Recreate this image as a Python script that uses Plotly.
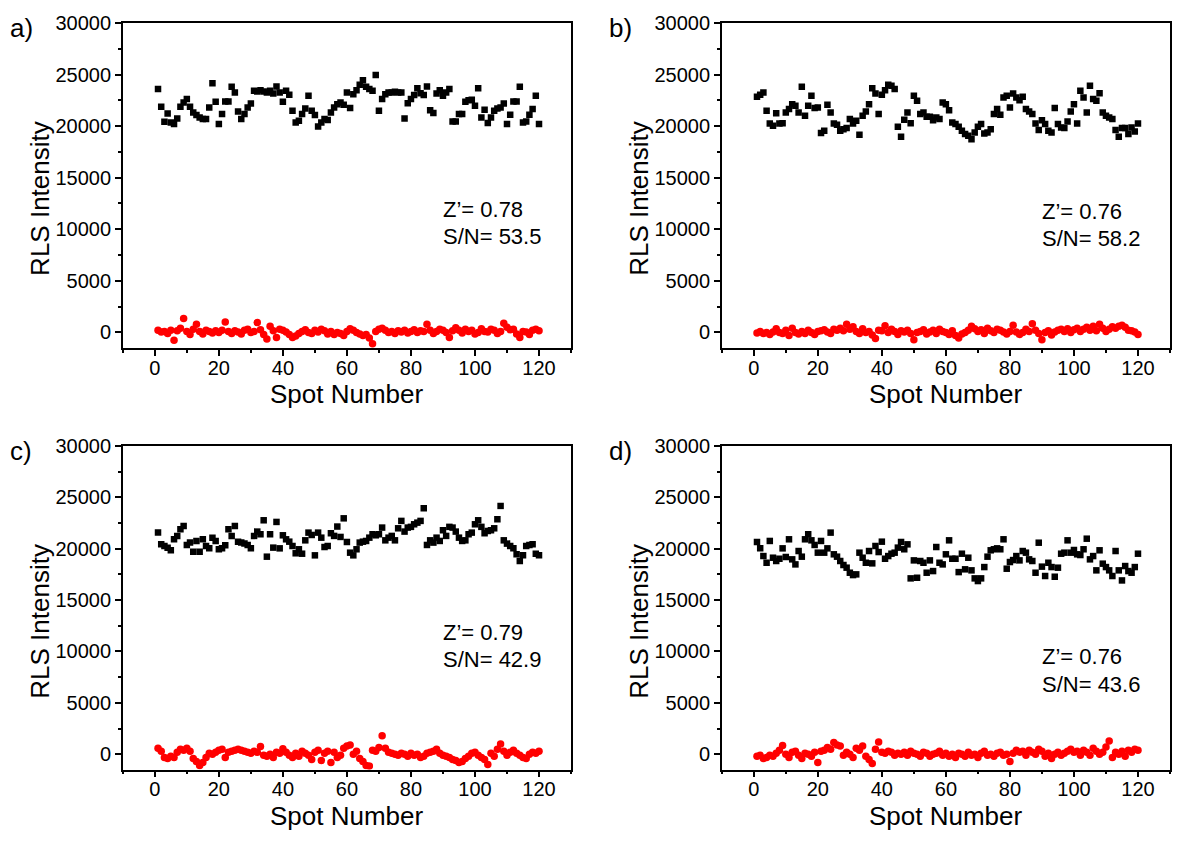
import plotly.graph_objects as go

# ---------------- data ----------------
panel_labels = ["a)", "b)", "c)", "d)"]
z_prime = ["Z’= 0.78", "Z’= 0.76", "Z’= 0.79", "Z’= 0.76"]
s_to_n = ["S/N= 53.5", "S/N= 58.2", "S/N= 42.9", "S/N= 43.6"]

pos_a = [23590, 21880, 20420, 21230, 20360, 20200, 20750, 21880, 22300, 22620,
         21880, 21330, 21070, 20840, 20680, 20680, 21810, 24170, 22360, 20200,
         21170, 22390, 22390, 23810, 23260, 21420, 20680, 21170, 21810, 22200,
         23430, 23360, 23490, 23360, 23260, 23430, 23170, 23840, 23260, 22360,
         23430, 23040, 21490, 20360, 20520, 21170, 21720, 22940, 21490, 21070,
         19970, 20360, 20680, 20590, 21330, 21810, 22130, 22300, 22070, 23260,
         21750, 23100, 23490, 24010, 24460, 23810, 23590, 23430, 24970, 21490,
         22620, 23100, 23260, 23260, 23330, 23260, 23260, 20750, 22230, 22620,
         23010, 23680, 23200, 23010, 23840, 21550, 21270, 23170, 23490, 22940,
         23260, 23590, 20460, 20460, 21170, 21170, 22360, 22520, 22550, 21970,
         23680, 20840, 21590, 20300, 20840, 21490, 21720, 21810, 22200, 20200,
         21100, 22390, 22390, 23810, 20360, 20460, 21100, 21650, 22940, 20200]

neg_a = [200, 50, 100, -100, 200, -750, 150, 400, 1350, 100,
         -200, 300, 800, 100, -150, 200, 100, -50, 150, 0,
         200, 1000, 100, -100, 150, 50, -150, 200, 300, 0,
         100, 950, 250, -200, -650, 600, 150, -500, 300, 200,
         50, -200, -500, -350, -100, 100, 250, 0, -100, 200,
         50, 300, 150, -150, 100, -200, 0, -100, -300, 100,
         350, 200, 0, -150, -300, -200, -550, -1100, 100, 300,
         400, 200, 0, 100, -100, 150, 50, 200, -50, 100,
         250, 0, 150, 100, 800, 200, -100, 100, 300, 200,
         0, -500, 150, 450, 200, -50, 300, 100, 200, -150,
         0, 350, 100, 50, 300, 200, -100, 100, 900, 500,
         250, 300, -150, -500, 100, 50, -200, 200, 300, 150]

pos_b = [22840, 23040, 23260, 21490, 20260, 20040, 21260, 20260, 20290, 21330,
         21650, 22130, 21970, 21330, 23810, 21000, 21970, 22940, 21750, 21810,
         19330, 19550, 22070, 21330, 20260, 20130, 19550, 19710, 19810, 20680,
         20260, 20520, 19160, 21000, 21420, 22130, 23680, 23170, 21170, 23040,
         23490, 24010, 23910, 23590, 19940, 18970, 20620, 21330, 20290, 22940,
         22460, 21170, 21330, 20910, 20910, 20580, 20840, 20680, 22300, 22130,
         21550, 20360, 20200, 19940, 19550, 19230, 19070, 18740, 19390, 19940,
         20200, 19290, 19390, 19710, 21170, 21650, 21100, 22780, 22940, 21810,
         23170, 22780, 22520, 22840, 21650, 21420, 21170, 20260, 19620, 20580,
         20200, 19550, 19390, 21750, 20200, 19870, 19810, 20450, 21420, 22130,
         20260, 23420, 22780, 21330, 23910, 22620, 22460, 23200, 21330, 21000,
         20840, 20680, 19620, 18970, 19810, 19810, 19230, 19870, 19490, 20260]

neg_b = [-50, 100, -100, 0, -200, 50, 350, 0, -100, 200,
         -300, 400, 0, -150, 100, -100, 200, 0, -200, 100,
         150, 250, 50, -100, 300, 200, 400, 150, 800, 300,
         550, 100, -100, 350, 0, 100, -250, -600, 200, 150,
         650, 0, 300, 100, -200, 150, 50, 200, -100, -700,
         0, 100, 250, -150, 50, 200, -100, 300, 100, 0,
         -200, 150, -300, -550, -150, 0, 200, 600, 350, 100,
         250, -100, 400, 150, 0, 300, 200, 50, -150, 100,
         700, 50, -200, 0, 300, 100, 850, 200, -100, -700,
         0, 150, -250, 50, 200, 300, 100, 350, 0, 250,
         400, 100, 300, 500, 200, 600, 150, 800, 400, 100,
         300, 550, 400, 600, 700, 500, 200, 150, 50, -200]

pos_c = [21560, 20420, 20260, 20100, 19840, 20910, 21240, 21890, 22210, 20360,
         20590, 19710, 20750, 19710, 20910, 20260, 20030, 21070, 20750, 19940,
         20030, 20330, 21890, 21240, 22210, 20680, 20590, 20490, 20360, 20030,
         21240, 21660, 21400, 22760, 19220, 21400, 20100, 22600, 20030, 21300,
         20910, 20680, 20260, 19550, 19940, 19510, 20810, 21560, 21330, 19350,
         21560, 21070, 20160, 20260, 21500, 21240, 22150, 21140, 22950, 20650,
         19610, 19350, 19940, 20590, 20680, 20750, 21070, 21400, 21300, 21400,
         22050, 20810, 21070, 21240, 20810, 21980, 22700, 21660, 22050, 22120,
         22370, 22530, 22700, 23930, 20360, 20810, 20590, 21070, 20750, 21790,
         21240, 22120, 22050, 21660, 21070, 20750, 20810, 21400, 21560, 22370,
         22760, 22120, 21500, 21720, 21790, 21980, 22860, 24160, 20810, 20490,
         20260, 20030, 19450, 18800, 19350, 20260, 20360, 20420, 19510, 19350]

neg_c = [600, 300, -300, -400, -200, -300, 200, 500, 400, 600,
         300, -400, -700, -1100, -800, -300, 100, 0, 200, 400,
         500, -300, 200, 300, 400, 500, 400, 300, 200, 100,
         300, 200, 750, -100, -200, 0, -300, 200, 100, 550,
         200, -100, -300, 100, -200, 300, 100, -100, -500, 200,
         400, -600, 100, 300, -800, 200, -300, -100, 600, 800,
         900, 0, 300, -400, -700, -1100, -1150, 400, 300, 650,
         1800, 600, 200, 100, 0, -100, 100, 0, -200, 100,
         -100, 0, -300, -200, 100, 200, 300, 500, 100, -100,
         -200, -300, -500, -600, -800, -700, -400, -200, 100, 200,
         -100, -300, -500, -1000, 100, -200, 500, 1000, 300, -100,
         200, 400, 100, -100, -300, -400, 0, 200, 100, 300]

pos_d = [20650, 20030, 19280, 18630, 20750, 19120, 18800, 19020, 20030, 19190,
         20910, 18960, 18470, 19770, 19220, 20910, 21400, 20810, 20360, 19610,
         20750, 19610, 20030, 21560, 19450, 19220, 18800, 18410, 18150, 17660,
         17430, 17500, 19610, 19120, 18630, 19770, 18570, 20260, 19670, 20680,
         19020, 19280, 19510, 19610, 20100, 20650, 19940, 20420, 17110, 18860,
         17170, 18800, 18630, 17660, 18860, 17820, 20160, 18630, 18470, 19450,
         20810, 19020, 19020, 17720, 19510, 17990, 19120, 17890, 17110, 16850,
         17110, 18210, 19220, 19840, 19940, 20030, 19940, 20910, 18050, 18700,
         18890, 19280, 18860, 19770, 19610, 18960, 18800, 17660, 20580, 18250,
         17340, 18630, 18210, 17270, 18150, 19510, 19610, 20810, 19610, 19870,
         19450, 19380, 19940, 20970, 18960, 19280, 17890, 19840, 18540, 18210,
         17890, 17340, 19770, 17890, 16910, 18310, 17820, 17660, 18210, 19510]

neg_d = [-200, -100, -400, -300, -100, -200, 100, 400, 850, 0,
         -300, 200, 300, -100, -400, 100, 0, -200, 200, -800,
         300, 400, 650, 500, 1150, 900, 800, -100, 200, 0,
         -300, 600, 400, 800, -200, -500, -900, 500, 1200, 200,
         100, 300, 200, -100, 100, 0, 200, -100, 300, 100,
         0, -200, 200, 100, -200, 0, 100, 300, -100, 100,
         -200, 0, -300, 100, 0, -200, 200, -100, 0, -300,
         100, 300, -100, 0, -200, 100, 200, -100, 0, -700,
         100, 400, 200, 300, -100, 400, 200, 0, 500, 300,
         -200, 100, -400, 0, 200, -100, 100, 300, 500, 200,
         300, -100, 400, 200, -100, 600, 300, 0, 200, 700,
         1300, -300, 200, 0, 300, -200, 400, 200, 500, 400]

positives = [pos_a, pos_b, pos_c, pos_d]
negatives = [neg_a, neg_b, neg_c, neg_d]

x_range = [-10, 130]
y_range = [-1500, 30000]
x_ticks = [0, 20, 40, 60, 80, 100, 120]
y_ticks = [0, 5000, 10000, 15000, 20000, 25000, 30000]

# ---------------- layout geometry ----------------
OFF_X = 8
W, H = 1180 - 2 * OFF_X, 823
TOP_OFF, VSCALE = 18.0, 0.987   # measured placement of the figure in the page


def px(x):
    return min(1.0, max(0.0, (x - OFF_X) / W))


def py(y):
    return min(1.0, max(0.0, 1 - ((y - TOP_OFF) / VSCALE) / H))


# target pixel boxes (left, right, top, bottom) in the 1180x851 page
boxes = [(123, 572, 22, 347), (723, 1172, 22, 347),
         (123, 572, 445, 769), (723, 1172, 445, 769)]
ann_y = [(11900, 9300), (11700, 9100), (11850, 9220), (9500, 6800)]

FONT = "Liberation Sans, Arial, sans-serif"

fig = go.Figure()
layout = dict(
    width=W, height=H, margin=dict(l=0, r=0, t=0, b=0),
    paper_bgcolor="white", plot_bgcolor="white", showlegend=False,
    font=dict(family=FONT, color="black", size=20),
)
annotations = []

for i in range(4):
    L, R, T, B = boxes[i]
    sfx = "" if i == 0 else str(i + 1)
    xa, ya = "x" + sfx, "y" + sfx
    xs = list(range(1, len(positives[i]) + 1))
    fig.add_trace(go.Scatter(
        x=xs, y=positives[i], mode="markers", xaxis=xa, yaxis=ya,
        marker=dict(symbol="square", size=6.5, color="black", line=dict(width=0))))
    xs2 = list(range(1, len(negatives[i]) + 1))
    fig.add_trace(go.Scatter(
        x=xs2, y=negatives[i], mode="markers", xaxis=xa, yaxis=ya,
        marker=dict(symbol="circle", size=7.5, color="#ff0000", line=dict(width=0))))

    axis_common = dict(
        showline=True, linecolor="black", linewidth=1.5, mirror=True,
        ticks="outside", ticklen=6, tickwidth=1.5, tickcolor="black",
        showgrid=False, zeroline=False,
        tickfont=dict(family=FONT, size=20, color="black"),
    )
    layout["xaxis" + sfx] = dict(
        axis_common, domain=[px(L), px(R)], anchor=ya, range=x_range,
        tickmode="array", tickvals=x_ticks, tickformat="d",
        ticklabelstandoff=-5,
        minor=dict(dtick=10, tick0=0, ticks="outside", ticklen=3, tickwidth=1.5,
                   tickcolor="black", showgrid=False),
    )
    layout["yaxis" + sfx] = dict(
        axis_common, domain=[py(B), py(T)], anchor=xa, range=y_range,
        tickmode="array", tickvals=y_ticks, tickformat="d",
        minor=dict(dtick=2500, tick0=0, ticks="outside", ticklen=3, tickwidth=1.5,
                   tickcolor="black", showgrid=False),
    )

    # panel label
    annotations.append(dict(text=panel_labels[i], xref="paper", yref="paper",
                            x=px(L - 115), y=py(T + 5), xanchor="left", yanchor="middle",
                            showarrow=False, font=dict(family=FONT, size=26)))
    # y title
    annotations.append(dict(text="RLS Intensity", xref="paper", yref="paper",
                            x=px(L - 83), y=py(T + 175), textangle=-90,
                            xanchor="center", yanchor="middle", showarrow=False,
                            font=dict(family=FONT, size=26)))
    # x title
    annotations.append(dict(text="Spot Number", xref="paper", yref="paper",
                            x=px((L + R) / 2), y=py(B + 46),
                            xanchor="center", yanchor="middle", showarrow=False,
                            font=dict(family=FONT, size=26)))
    # statistics text
    annotations.append(dict(text=z_prime[i], xref=xa, yref=ya, x=89.3, y=ann_y[i][0],
                            xanchor="left", yanchor="middle", showarrow=False,
                            font=dict(family=FONT, size=22)))
    annotations.append(dict(text=s_to_n[i], xref=xa, yref=ya, x=89.3, y=ann_y[i][1],
                            xanchor="left", yanchor="middle", showarrow=False,
                            font=dict(family=FONT, size=22)))

layout["annotations"] = annotations
fig.update_layout(**layout)
fig.write_html("out.html")
